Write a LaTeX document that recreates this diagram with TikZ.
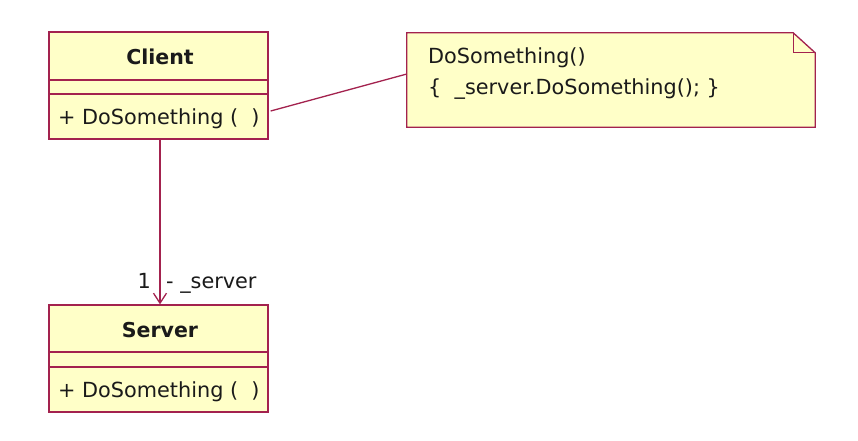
\documentclass[tikz,border=0pt]{standalone}
\usepackage{fontspec}
\setmainfont{DejaVu Sans}
\usetikzlibrary{calc,arrows.meta}
\definecolor{umlline}{HTML}{A3224E}
\definecolor{umlfill}{HTML}{FFFFC8}
\definecolor{umltext}{HTML}{1A1A1A}
\begin{document}
\begin{tikzpicture}[x=1pt,y=-1pt,
  every node/.style={font=\fontsize{20.8}{24}\selectfont, text=umltext, inner sep=0pt},
  classbox/.style={draw=umlline, fill=umlfill, line width=1.3pt, minimum width=219pt, minimum height=107pt, inner sep=0pt},
  divider/.style={draw=umlline, line width=1.3pt},
  conn/.style={draw=umlline, line width=1.3pt},
  titletext/.style={font=\fontsize{20.5}{24}\selectfont\bfseries, anchor=base},
  optext/.style={anchor=base west},
]
\useasboundingbox (0,0) rectangle (858,440);
\fill[white] (0,0) rectangle (858,440);

% Client class
\node[classbox] (client) at (158.5,85.5) {};
\draw[divider] (49,80) -- (268,80);
\draw[divider] (49,94) -- (268,94);
\node[titletext] (clienttitle) at (160,64) {Client};
\node[optext] (clientop) at (58,124.5) {+ DoSomething (\ \ )};

% Server class
\node[classbox] (server) at (158.5,358.5) {};
\draw[divider] (49,352) -- (268,352);
\draw[divider] (49,367) -- (268,367);
\node[titletext] (servertitle) at (160,337) {Server};
\node[optext] (serverop) at (58,397) {+ DoSomething (\ \ )};

% Note
\node[minimum width=408pt, minimum height=94pt] (note) at (611,80) {};
\draw[draw=umlline, fill=umlfill, line width=1.3pt]
  (note.north west) -- ($(note.north east)+(-22,0)$) -- ($(note.north east)+(0,20)$)
  -- (note.south east) -- (note.south west) -- cycle;
\draw[draw=umlline, line width=1.3pt]
  ($(note.north east)+(-22,0)$) -- ($(note.north east)+(-22,20)$) -- ($(note.north east)+(0,20)$);
\node[optext] (noteline1) at (428,63) {DoSomething()};
\node[optext] (noteline2) at (428,94) {\{\ \ \_server.DoSomething(); \}};

% Note link
\coordinate (clink) at ($(client.east)+(2,25.5)$);
\coordinate (nlink) at ($(note.west)+(0,-6)$);
\draw[conn] (clink) -- (nlink);

% Association
\draw[conn, -{Straight Barb[length=10pt,width=13pt,line width=1.3pt]}] ($(client.south)+(1.5,0)$) -- ($(server.north)+(1.5,0)$);
\node[anchor=base east] (mult) at (151,288) {1};
\node[anchor=base west] (role) at (166,288) {- \_server};
\end{tikzpicture}
\end{document}
